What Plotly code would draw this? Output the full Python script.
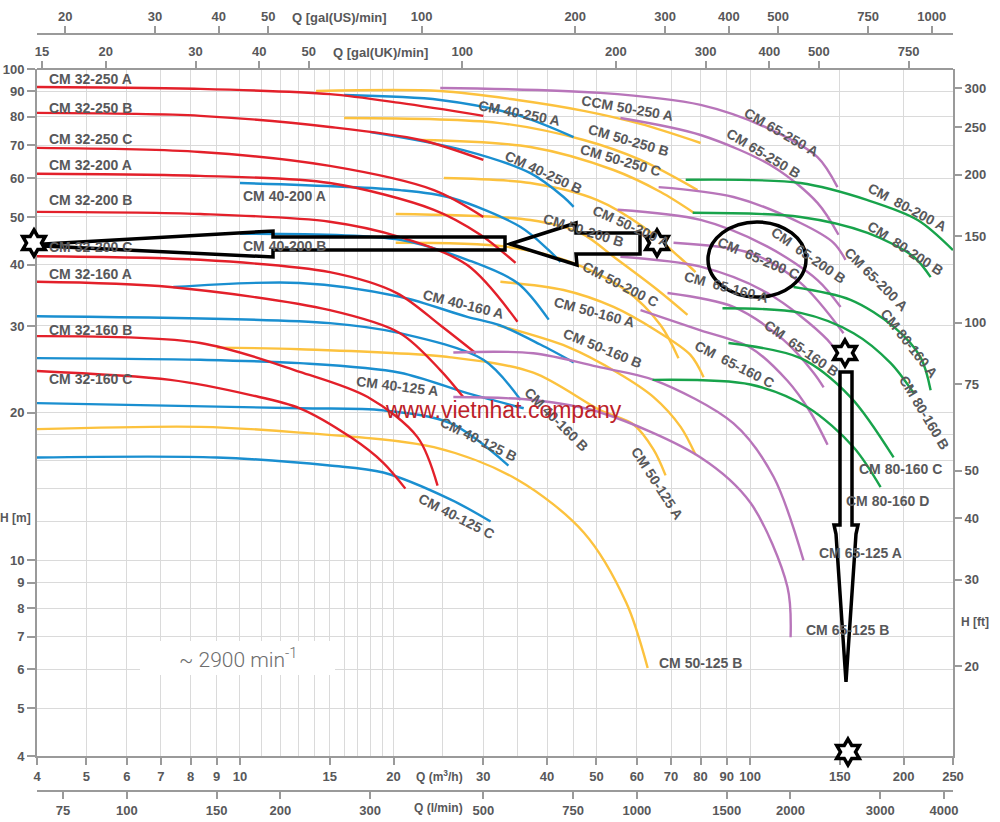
import numpy as np
import plotly.graph_objects as go

# ---------------- data : Q [m3/h], H [m] ----------------
# CM 32 (red)
q_32_250A = [4.0, 8.36, 15.0, 20.6, 30.0];            h_32_250A = [91.9, 91.1, 88.9, 85.3, 80.3]
q_32_250B = [4.0, 8.36, 15.0, 22.6, 30.0];            h_32_250B = [81.4, 80.3, 76.2, 71.7, 65.3]
q_32_250C = [4.0, 8.36, 15.0, 24.0, 30.0];            h_32_250C = [69.1, 67.8, 63.5, 56.7, 50.0]
q_32_200A = [4.0, 8.36, 15.0, 24.0, 29.6, 34.7];      h_32_200A = [61.2, 60.6, 58.6, 51.7, 46.0, 40.3]
q_32_200B = [4.0, 8.36, 15.0, 20.6, 27.9, 35.0];      h_32_200B = [51.2, 50.7, 48.9, 45.5, 39.9, 30.6]
q_32_200C = [4.0, 8.36, 15.0, 20.3, 24.7, 29.0];      h_32_200C = [41.6, 40.9, 38.6, 35.0, 30.1, 26.4]
q_32_160A = [4.0, 7.3, 15.0, 20.6, 24.7, 27.4];       h_32_160A = [36.9, 36.0, 32.3, 29.0, 24.4, 21.5]
q_32_160B = [4.0, 8.36, 13.1, 17.8, 22.3, 24.4];      h_32_160B = [28.6, 27.7, 24.2, 21.5, 17.8, 14.2]
q_32_160C = [4.0, 7.3, 10.5, 13.1, 16.5, 19.1, 21.1]; h_32_160C = [24.3, 23.3, 21.7, 20.4, 17.8, 15.8, 14.0]
# CM 40 (blue)
q_40_250A = [16.0, 24.7, 35.0, 45.1];                 h_40_250A = [88.5, 86.5, 80.6, 72.7]
q_40_250B = [18.0, 27.4, 37.1, 43.1, 45.1];           h_40_250B = [74.4, 68.4, 61.4, 54.9, 52.4]
q_40_200A = [10.0, 20.6, 25.9, 35.5, 40.3, 42.5];     h_40_200A = [58.6, 56.7, 54.7, 47.7, 42.8, 40.5]
q_40_200B = [10.0, 20.6, 27.9, 35.0, 40.3];           h_40_200B = [46.2, 44.9, 40.9, 36.7, 30.9]
q_40_160A = [7.4, 13.1, 20.6, 27.9, 32.3, 38.8, 45.1]; h_40_160A = [36.0, 36.7, 34.4, 31.3, 30.1, 27.5, 25.3]
q_40_160B = [4.0, 15.0, 20.6, 30.0, 35.5];            h_40_160B = [31.4, 30.4, 29.0, 25.6, 21.2]
q_40_125A = [4.0, 8.36, 13.1, 20.6, 27.9, 36.0];      h_40_125A = [25.8, 25.6, 25.2, 24.1, 21.9, 20.4]
q_40_125B = [4.0, 13.1, 19.1, 25.9, 33.6];            h_40_125B = [20.9, 20.4, 20.2, 19.0, 15.6]
q_40_125C = [4.0, 9.0, 15.0, 19.1, 25.9, 31.0];       h_40_125C = [16.2, 16.2, 15.6, 15.1, 13.3, 12.0]
# CM 50 (yellow)
q_50_250A = [14.1, 24.7, 35.0, 47.2, 61.0, 80.0];     h_50_250A = [90.2, 90.2, 86.5, 82.2, 77.3, 70.7]
q_50_250B = [16.0, 32.0, 47.2, 61.0, 78.9];           h_50_250B = [79.5, 77.7, 71.7, 65.3, 56.7]
q_50_250C = [22.6, 37.1, 54.0, 66.8, 77.8];           h_50_250C = [71.7, 69.4, 62.3, 56.2, 50.9]
q_50_200A = [25.1, 37.1, 50.2, 61.8, 73.1, 78.2];     h_50_200A = [60.0, 58.6, 54.1, 47.7, 41.2, 38.6]
q_50_200B = [20.2, 37.1, 46.5, 55.0, 65.9, 75.4];     h_50_200B = [50.7, 49.3, 46.4, 40.9, 35.5, 31.6]
q_50_200C = [20.2, 33.2, 44.4, 57.0, 66.8, 72.4];     h_50_200C = [44.3, 43.5, 40.5, 35.5, 30.1, 25.8]
q_50_160A = [32.4, 43.1, 54.0, 65.3, 76.4, 81.1];     h_50_160A = [36.9, 35.5, 32.8, 29.4, 26.2, 23.6]
q_50_160B = [32.0, 43.9, 55.0, 64.7, 73.1, 78.2];     h_50_160B = [30.1, 27.2, 24.1, 21.5, 18.7, 16.4]
q_50_125A = [9.0, 13.1, 25.9, 37.6, 50.9, 59.1, 64.7, 68.3]; h_50_125A = [27.1, 26.9, 25.9, 24.1, 20.2, 18.9, 16.8, 14.9]
q_50_125B = [4.0, 8.36, 13.1, 24.0, 35.0, 47.2, 57.2, 63.0]; h_50_125B = [18.5, 18.7, 18.2, 17.0, 14.6, 11.4, 8.2, 6.04]
# CM 65 (purple)
q_65_250A = [24.7, 50.9, 80.0, 108.2, 135.6, 148.4];  h_65_250A = [91.5, 89.4, 84.5, 75.8, 66.2, 57.5]
q_65_250B = [55.7, 80.0, 111.2, 135.6, 149.1];        h_65_250B = [79.5, 73.4, 63.2, 53.4, 46.0]
q_65_200A = [66.2, 92.8, 125.6, 145.8, 153.9];        h_65_200A = [57.5, 54.9, 48.6, 44.3, 40.9]
q_65_200B = [55.0, 80.0, 108.2, 135.6, 150.5];        h_65_200B = [51.7, 49.3, 43.5, 37.2, 32.8]
q_65_200C = [70.8, 100.2, 125.6, 152.5];              h_65_200C = [44.3, 42.2, 36.7, 29.0]
q_65_160A = [55.7, 80.0, 108.2, 141.9, 152.5];        h_65_160A = [41.5, 39.6, 35.0, 28.1, 25.2]
q_65_160B = [68.9, 92.8, 116.3, 133.2, 139.4];        h_65_160B = [35.0, 32.8, 28.1, 24.1, 22.5]
q_65_160C = [61.0, 80.0, 100.2, 118.4, 131.4, 141.9]; h_65_160C = [32.3, 29.4, 27.1, 23.2, 20.0, 17.2]
q_65_125A = [26.2, 37.6, 50.9, 64.7, 92.8, 111.2, 127.3]; h_65_125A = [26.5, 26.4, 24.7, 23.3, 19.0, 14.8, 10.0]
q_65_125B = [26.2, 37.6, 50.9, 80.0, 100.2, 118.4, 120.1]; h_65_125B = [21.5, 21.2, 20.0, 16.2, 13.1, 8.83, 6.98]
# CM 80 (green)
q_80_200A = [74.8, 125.6, 170.0, 213.1, 250.0];       h_80_200A = [59.5, 58.6, 54.1, 49.3, 42.8]
q_80_200B = [77.2, 125.6, 170.0, 209.3, 226.0];       h_80_200B = [51.0, 50.0, 46.4, 41.5, 37.7]
q_80_160A = [121.7, 157.4, 191.2, 216.0, 226.0];      h_80_160A = [36.0, 33.9, 29.9, 25.9, 22.2]
q_80_160B = [88.3, 125.6, 159.6, 188.7, 209.3];       h_80_160B = [32.6, 31.9, 29.0, 25.2, 21.9]
q_80_160C = [90.7, 125.6, 157.4, 191.2];              h_80_160C = [27.7, 25.8, 21.5, 16.2]
q_80_160D = [64.4, 100.2, 129.6, 159.6, 180.3];       h_80_160D = [23.3, 22.8, 20.5, 17.0, 14.1]

# tick values
q_ticks = [4, 5, 6, 7, 8, 9, 10, 15, 20, 30, 40, 50, 60, 70, 80, 90, 100, 150, 200, 250]
q_grid = [11, 12, 13, 14, 16, 17, 18, 19, 25, 35, 45]
h_ticks = [4, 5, 6, 7, 8, 9, 10, 20, 30, 40, 50, 60, 70, 80, 90, 100]
h_grid = [12, 14, 16, 18]
ft_ticks = [20, 30, 40, 50, 75, 100, 150, 200, 250, 300]
usgpm_ticks = [20, 30, 40, 50, 100, 200, 300, 400, 500, 750, 1000]
ukgpm_ticks = [15, 20, 30, 40, 50, 100, 200, 300, 400, 500, 750]
lmin_ticks = [75, 100, 150, 200, 300, 500, 750, 1000, 1500, 2000, 3000, 4000]

RED, BLUE, YEL, PUR, GRN = '#e3202a', '#1a8fd0', '#fcc23e', '#b875ba', '#18a34b'
series = [
    (YEL, q_50_250A, h_50_250A), (YEL, q_50_250B, h_50_250B), (YEL, q_50_250C, h_50_250C),
    (YEL, q_50_200A, h_50_200A), (YEL, q_50_200B, h_50_200B), (YEL, q_50_200C, h_50_200C),
    (YEL, q_50_160A, h_50_160A), (YEL, q_50_160B, h_50_160B), (YEL, q_50_125A, h_50_125A),
    (YEL, q_50_125B, h_50_125B),
    (BLUE, q_40_250A, h_40_250A), (BLUE, q_40_250B, h_40_250B), (BLUE, q_40_200A, h_40_200A),
    (BLUE, q_40_200B, h_40_200B), (BLUE, q_40_160A, h_40_160A), (BLUE, q_40_160B, h_40_160B),
    (BLUE, q_40_125A, h_40_125A), (BLUE, q_40_125B, h_40_125B), (BLUE, q_40_125C, h_40_125C),
    (RED, q_32_250A, h_32_250A), (RED, q_32_250B, h_32_250B), (RED, q_32_250C, h_32_250C),
    (RED, q_32_200A, h_32_200A), (RED, q_32_200B, h_32_200B), (RED, q_32_200C, h_32_200C),
    (RED, q_32_160A, h_32_160A), (RED, q_32_160B, h_32_160B), (RED, q_32_160C, h_32_160C),
    (PUR, q_65_250A, h_65_250A), (PUR, q_65_250B, h_65_250B), (PUR, q_65_200A, h_65_200A),
    (PUR, q_65_200B, h_65_200B), (PUR, q_65_200C, h_65_200C), (PUR, q_65_160A, h_65_160A),
    (PUR, q_65_160B, h_65_160B), (PUR, q_65_160C, h_65_160C), (PUR, q_65_125A, h_65_125A),
    (PUR, q_65_125B, h_65_125B),
    (GRN, q_80_200A, h_80_200A), (GRN, q_80_200B, h_80_200B), (GRN, q_80_160A, h_80_160A),
    (GRN, q_80_160B, h_80_160B), (GRN, q_80_160C, h_80_160C), (GRN, q_80_160D, h_80_160D),
]

# ---------------- layout helpers (pixel -> paper) ----------------
W, HGT = 1000, 822
ML, MR, MT, MB = 37, 47, 20, 20
PW, PH = W - ML - MR, HGT - MT - MB
def fx(p): return (p - ML) / PW
def fy(p): return (HGT - MB - p) / PH

fig = go.Figure()
for col, q, h in series:
    fig.add_trace(go.Scatter(x=q, y=h, mode='lines', hoverinfo='skip', showlegend=False,
                             line=dict(color=col, width=2.4, shape='spline', smoothing=0.9)))
# carriers for the secondary axes
fig.add_trace(go.Scatter(x=[100], y=[50], xaxis='x2', mode='lines', showlegend=False, hoverinfo='skip'))
fig.add_trace(go.Scatter(x=[100], y=[50], xaxis='x3', mode='lines', showlegend=False, hoverinfo='skip'))
fig.add_trace(go.Scatter(x=[1000], y=[50], xaxis='x4', mode='lines', showlegend=False, hoverinfo='skip'))
fig.add_trace(go.Scatter(x=[10], y=[50], yaxis='y2', mode='lines', showlegend=False, hoverinfo='skip'))

AX = '#9a9a9a'
TF = dict(family='Liberation Sans, Arial', size=13, color='#58585a', weight='bold')
GRID = '#dadada'
qlo, qhi = 4, 250
common = dict(type='log', showline=True, linecolor=AX, linewidth=2, ticks='outside',
              tickcolor=AX, tickwidth=2, tickfont=TF, zeroline=False, automargin=False)

fig.update_layout(
    width=W, height=HGT, margin=dict(l=ML, r=MR, t=MT, b=MB, autoexpand=False),
    paper_bgcolor='white', plot_bgcolor='white',
    xaxis=dict(**common, ticklen=7, range=[np.log10(qlo), np.log10(qhi)], domain=[0, 1], anchor='y',
               tickmode='array', tickvals=q_ticks, ticktext=[str(v) for v in q_ticks],
               showgrid=True, gridcolor=GRID, gridwidth=1,
               minor=dict(tickmode='array', tickvals=q_grid, showgrid=True, gridcolor=GRID, ticks='')),
    yaxis=dict(**common, ticklen=8, range=[np.log10(4), 2], domain=[fy(756), fy(69)], anchor='x',
               tickmode='array', tickvals=h_ticks, ticktext=[str(v) for v in h_ticks],
               showgrid=True, gridcolor=GRID, gridwidth=1,
               minor=dict(tickmode='array', tickvals=h_grid, showgrid=True, gridcolor=GRID, ticks='')),
    xaxis2=dict(**common, ticklen=7, overlaying='x', anchor='free', position=fy(34), side='top',
                range=[np.log10(qlo * 4.40287), np.log10(qhi * 4.40287)],
                tickmode='array', tickvals=usgpm_ticks, ticktext=[str(v) for v in usgpm_ticks], showgrid=False),
    xaxis3=dict(**common, ticklen=7, overlaying='x', anchor='free', position=fy(69), side='top',
                range=[np.log10(qlo * 3.66615), np.log10(qhi * 3.66615)],
                tickmode='array', tickvals=ukgpm_ticks, ticktext=[str(v) for v in ukgpm_ticks], showgrid=False),
    xaxis4=dict(**common, ticklen=7, overlaying='x', anchor='free', position=fy(791), side='bottom',
                range=[np.log10(qlo * 16.6667), np.log10(qhi * 16.6667)],
                tickmode='array', tickvals=lmin_ticks, ticktext=[str(v) for v in lmin_ticks], showgrid=False),
    yaxis2=dict(**common, ticklen=7, overlaying='y', anchor='x', side='right',
                range=[np.log10(4 * 3.28084), np.log10(100 * 3.28084)],
                tickmode='array', tickvals=ft_ticks, ticktext=[str(v) for v in ft_ticks], showgrid=False),
)

# ---------------- curve labels ----------------
NB = '\u00a0'
labels = [
    ("CM 32-250 A", 90, 79, 0), ("CM 32-250 B", 90, 108, 0), ("CM 32-250 C", 90, 139, 0),
    ("CM 32-200 A", 90, 165, 0), ("CM 32-200 B", 90, 200, 0), ("CM 32-200 C", 90, 247, 0),
    ("CM 32-160 A", 90, 274, 0), ("CM 32-160 B", 90, 330, 0), ("CM 32-160 C", 90, 379, 0),
    ("CM 40-200 A", 284, 196, 0), ("CM 40-200 B", 284, 246, 0),
    ("CM 40-250 A", 519, 113, 11), ("CM 40-250 B", 543, 172, 25),
    ("CCM 50-250 A", 627, 108, 10), ("CM 50-250 B", 628, 140, 16), ("CM 50-250 C", 620, 160, 16),
    ("CM 50-200 A", 631, 226, 24), ("CM 50-200 B", 583, 230, 17), ("CM 50-200 C", 620, 284, 27),
    ("CM 40-160 A", 463, 304, 14), ("CM 50-160 A", 594, 312, 15), ("CM 50-160 B", 602, 348, 22),
    ("CM 40-125 A", 397, 386, 7), ("CM 40-160 B", 556, 419, 45), ("CM 40-125 B", 478, 439, 26),
    ("CM 40-125 C", 456, 516, 27), ("CM 50-125 A", 657, 483, 57), ("CM 50-125 B", 700, 663, 0),
    ("CM 65-125 A", 860, 553, 0), ("CM 65-125 B", 847, 630, 0),
    ("CM 80-160 C", 900, 469, 0), ("CM 80-160 D", 887, 501, 0),
    ("CM" + NB + " 65-160 B", 801, 348, 35), ("CM" + NB + " 65-160 C", 734, 364, 27),
    ("CM 80-160 A", 909, 343, 52), ("CM 80-160 B", 924, 412, 59),
    ("CM" + NB + " 80-200 A", 907, 207, 28), ("CM" + NB + " 80-200 B", 905, 248, 33),
    ("CM 65-200 A", 876, 279, 45), ("CM" + NB + " 65-200 B", 808, 255, 35),
    ("CM" + NB + " 65-200 C", 758, 258, 23), ("CM" + NB + " 65-160 A", 726, 287, 15),
    ("CM 65-250 A", 781, 132, 30), ("CM 65-250 B", 763, 153, 31),
]
LF = dict(family='Liberation Sans, Arial', size=14, color='#58585a', weight='bold')
ann = []
for t, x, y, a in labels:
    ann.append(dict(text=t, x=fx(x), y=fy(y), xref='paper', yref='paper', showarrow=False,
                    textangle=a, font=LF, xanchor='center', yanchor='middle'))

# axis titles
TF12 = dict(TF, size=12)
for t, x, y, f in [("Q [gal(US)/min]", 339, 17, TF), ("Q [gal(UK)/min]", 380, 52, TF),
                   ("Q (m<sup>3</sup>/h)", 439, 776, TF12), ("Q (l/min)", 438, 808, TF12),
                   ("H [m]", 15, 518, TF12), ("H [ft]", 975, 622, TF12)]:
    ann.append(dict(text=t, x=fx(x), y=fy(y), xref='paper', yref='paper', showarrow=False,
                    font=f, xanchor='center', yanchor='middle'))

ann.append(dict(text="~ 2900 min<sup>-1</sup>", x=fx(238), y=fy(658), xref='paper', yref='paper',
                showarrow=False, font=dict(family='Roboto, Liberation Sans', size=21, color='#6d6d6d', weight=300),
                xanchor='center', yanchor='middle'))
ann.append(dict(text="www.vietnhat.company", x=fx(503), y=fy(410), xref='paper', yref='paper',
                showarrow=False, font=dict(family='Liberation Sans, Arial', size=23, color='#bd2229'),
                xanchor='center', yanchor='middle'))

# ---------------- shapes: white box + hand-drawn markup ----------------
shapes = [dict(type='rect', xref='paper', yref='paper', x0=fx(140), x1=fx(335), y0=fy(675), y1=fy(641),
               fillcolor='white', line=dict(width=0), layer='above')]

def path(pts, close=True):
    s = 'M ' + ' L '.join(f'{fx(a):.5f},{fy(b):.5f}' for a, b in pts)
    return s + (' Z' if close else '')

def star(cx, cy, R=13.0):
    r = R / np.sqrt(3)
    pts = []
    for k in range(12):
        ang = np.radians(-90 + 30 * k)
        rad = R if k % 2 == 0 else r
        pts.append((cx + rad * np.cos(ang), cy + rad * np.sin(ang)))
    return pts

MK = dict(color='black', width=3.5)
left_arrow = [(44, 244), (273, 231), (273, 237), (505, 237), (505, 250), (273, 250), (273, 257), (44, 246)]
right_arrow = [(640, 233), (576, 233), (576, 223), (510, 244), (577, 265), (576, 254), (640, 254)]
down_arrow = [(840, 372), (852, 372), (852, 525), (858, 525), (856, 534), (846, 682), (836, 534),
              (834, 525), (840, 525)]
for pts in [left_arrow, right_arrow, down_arrow]:
    shapes.append(dict(type='path', xref='paper', yref='paper', path=path(pts), line=MK, layer='above'))
for cx, cy in [(34, 243), (657, 243), (845, 353), (848, 752)]:
    shapes.append(dict(type='path', xref='paper', yref='paper', path=path(star(cx, cy)),
                       line=dict(color='black', width=3.5), fillcolor='white', layer='above'))
shapes.append(dict(type='circle', xref='paper', yref='paper', x0=fx(708), x1=fx(806), y0=fy(297), y1=fy(222),
                   line=MK, layer='above'))

fig.update_layout(annotations=ann, shapes=shapes)
fig.write_html("out.html", config={'displayModeBar': False},
               post_script="document.body.style.margin='0';document.body.style.overflow='hidden';")
